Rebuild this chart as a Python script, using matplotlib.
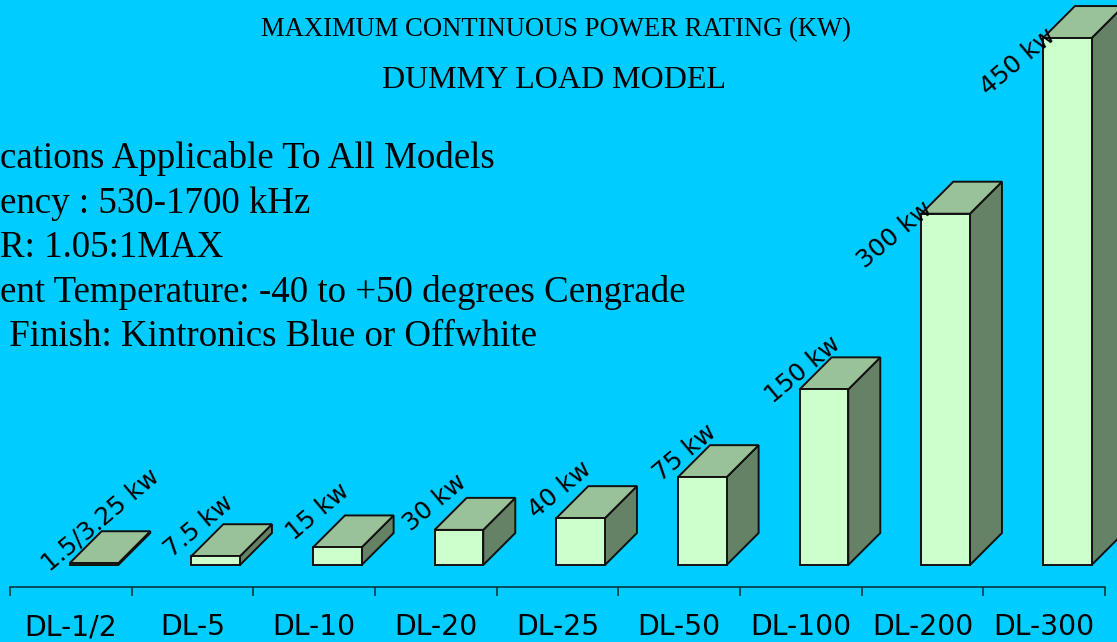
import matplotlib
matplotlib.use("Agg")
import matplotlib.pyplot as plt
from matplotlib.patches import Polygon
from matplotlib.transforms import blended_transform_factory

# ---- data ----
categories = ["DL-1/2", "DL-5", "DL-10", "DL-20", "DL-25", "DL-50", "DL-100", "DL-200", "DL-300"]
power_kw = [1.5, 7.5, 15, 30, 40, 75, 150, 300, 450]
value_labels = ["1.5/3.25 kw", "7.5 kw", "15 kw", "30 kw", "40 kw", "75 kw", "150 kw", "300 kw", "450 kw"]
title_1 = "MAXIMUM CONTINUOUS POWER RATING (KW)"
title_2 = "DUMMY LOAD MODEL"
spec_lines = [
    "cations Applicable To All Models",
    "ency : 530-1700 kHz",
    "R: 1.05:1MAX",
    "ent Temperature: -40 to +50 degrees Cengrade",
    " Finish: Kintronics Blue or Offwhite",
]

# ---- style ----
W, H, DPI = 1117, 642, 100
BG = "#00CCFF"
FRONT = "#CCFFCC"
TOP = "#99C299"
SIDE = "#668266"
EDGE = "#111111"

fig = plt.figure(figsize=(W / DPI, H / DPI), dpi=DPI, facecolor=BG)
ax_left, ax_right = 10, 1105
ax_base = 565  # px from top
px_per_kw = 1.171
ax_h = ax_base
ax = fig.add_axes([ax_left / W, (H - ax_base) / H, (ax_right - ax_left) / W, ax_h / H])
ax.set_facecolor("none")
ax.set_xlim(0, len(categories))
ax.set_ylim(0, ax_h / px_per_kw)

depth_px = 32
dx = depth_px * len(categories) / (ax_right - ax_left)
dy = depth_px / px_per_kw
f_off, f_w = 0.49, 0.40

for i, v in enumerate(power_kw):
    x0 = i + f_off
    x1 = x0 + f_w
    front = Polygon([(x0, 0), (x1, 0), (x1, v), (x0, v)], closed=True,
                    facecolor=FRONT, edgecolor=EDGE, lw=1.4, clip_on=False, zorder=3)
    top = Polygon([(x0, v), (x1, v), (x1 + dx, v + dy), (x0 + dx, v + dy)], closed=True,
                  facecolor=TOP, edgecolor=EDGE, lw=1.4, clip_on=False, zorder=3)
    side = Polygon([(x1, 0), (x1 + dx, dy), (x1 + dx, v + dy), (x1, v)], closed=True,
                   facecolor=SIDE, edgecolor=EDGE, lw=1.4, clip_on=False, zorder=3)
    for p in (side, top, front):
        ax.add_patch(p)

# value labels (offsets in pixels from the front-top centre of each bar)
label_off = [(7, 43), (-17, 30), (-19, 36), (-24, 27), (-21, 28), (-17, 24), (-21, 20), (-51, -21), (-49, -24)]
for i, (v, lab) in enumerate(zip(power_kw, value_labels)):
    ox, oy = label_off[i]
    ax.annotate(lab, xy=(i + f_off + f_w / 2, v), xytext=(ox, oy), textcoords="offset pixels",
                ha="center", va="center", rotation=40, fontsize=17.8, family="DejaVu Sans",
                color="black", zorder=5, annotation_clip=False)

# axis
for s in ("top", "right", "left"):
    ax.spines[s].set_visible(False)
ax.spines["bottom"].set_position(("outward", 22 * 72 / DPI))
ax.spines["bottom"].set_linewidth(1.1)
ax.spines["bottom"].set_color("#0a2a33")
ax.set_yticks([])
ax.set_xticks(range(len(categories) + 1))
ax.set_xticklabels([])
ax.tick_params(axis="x", direction="out", length=9 * 72 / DPI, width=1.1, color="#0a2a33")

lab_tr = blended_transform_factory(ax.transData, fig.transFigure)
for i, c in enumerate(categories):
    ax.text(i + 0.5, (H - 635) / H, c, transform=lab_tr, ha="center", va="baseline",
            fontsize=20.3, family="DejaVu Sans", color="black")

# titles
fig.text(556 / W, 1 - 30 / H, title_1, ha="center", va="center", fontsize=19.2,
         family="Liberation Serif", color="black")
fig.text(553.5 / W, 1 - 80 / H, title_2, ha="center", va="center", fontsize=23,
         family="Liberation Serif", color="black")

for k, line in enumerate(spec_lines):
    fig.text(0, 1 - (159 + 44.5 * k) / H, line, ha="left", va="center", fontsize=26.6,
             family="Liberation Serif", color="black")

fig.savefig("out.png", dpi=DPI, facecolor=BG)
